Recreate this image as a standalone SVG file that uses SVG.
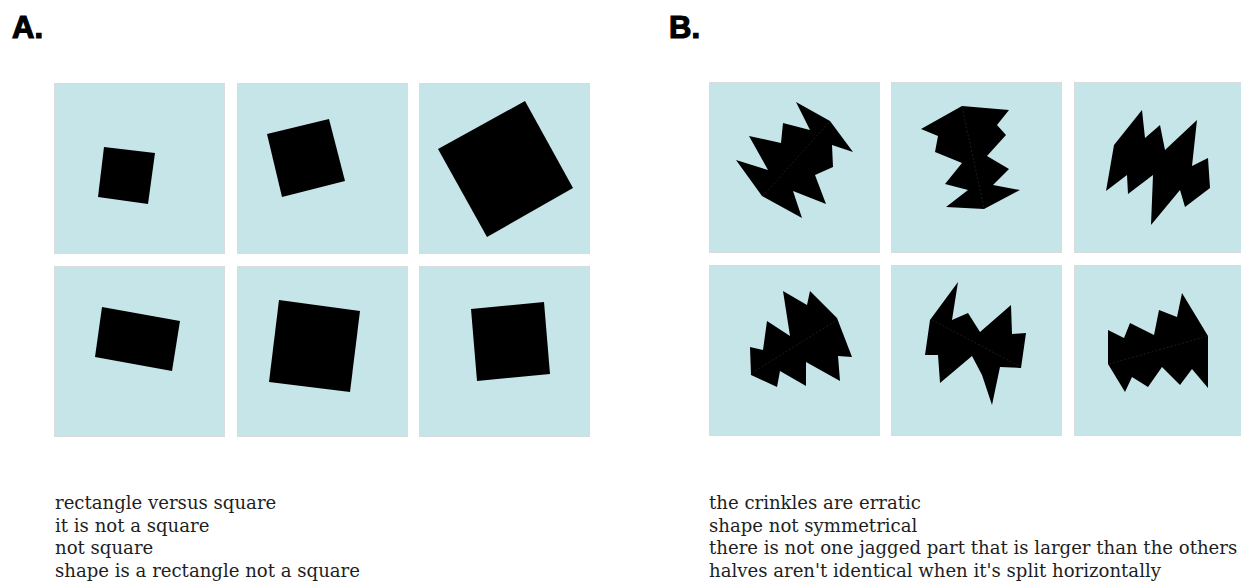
<svg xmlns="http://www.w3.org/2000/svg" width="1241" height="584" viewBox="0 0 1241 584">
<style>
.bg{fill:#ffffff}
.panel{fill:#c6e5e8;stroke:#d8dcdc;stroke-width:1}
.shape{fill:#000000}
.seam{fill:none;stroke:#2a2a2a;stroke-width:0.7;stroke-dasharray:2 2}
.lbl{font-family:"Liberation Sans",Arial,sans-serif;font-weight:bold;font-size:31px;fill:#000;stroke:#000;stroke-width:1.2}
.txt{font-family:"DejaVu Serif","Liberation Serif",serif;font-size:18.1px;fill:#1e1e1e}
</style>
<rect class="bg" x="0" y="0" width="1241" height="584"/>
<text class="lbl" x="12" y="38">A.</text>
<text class="lbl" x="669" y="38">B.</text>

<g id="a1"><rect class="panel" x="54.5" y="83.5" width="170" height="170"/><polygon class="shape" points="104,147 155,153 148,204 98,197"/></g>
<g id="a2"><rect class="panel" x="237.5" y="83.5" width="170" height="170"/><polygon class="shape" points="267,134 329,119 345,181 282,197"/></g>
<g id="a3"><rect class="panel" x="419.5" y="83.5" width="170" height="170"/><polygon class="shape" points="525,101 573,188 487,237 438,149"/></g>
<g id="a4"><rect class="panel" x="54.5" y="266.5" width="170" height="170"/><polygon class="shape" points="102,307 180,321 172,371 95,357"/></g>
<g id="a5"><rect class="panel" x="237.5" y="266.5" width="170" height="170"/><polygon class="shape" points="279,300 360,311 350,392 269,382"/></g>
<g id="a6"><rect class="panel" x="419.5" y="266.5" width="170" height="170"/><polygon class="shape" points="471,309 544,302 550,374 477,381"/></g>

<g id="b1"><rect class="panel" x="709.5" y="82.5" width="170" height="170"/>
<polygon class="shape" points="796,102 830,121 853,152 832,145 833,167 815,175 826,204 793,191 802,218 762,196 736,160 768,170 749,136 781,143 783,123 810,130"/>
<line class="seam" x1="763" y1="196" x2="830" y2="121"/></g>
<g id="b2"><rect class="panel" x="891.5" y="82.5" width="170" height="170"/>
<polygon class="shape" points="962,106 1009,110 997,125 1006,135 987,156 1009,169 993,185 1020,190 984,209 946,207 968,190 945,184 962,163 935,152 938,136 921,129"/>
<line class="seam" x1="962" y1="107" x2="984" y2="208"/></g>
<g id="b3"><rect class="panel" x="1074.5" y="82.5" width="170" height="170"/>
<polygon class="shape" points="1142,110 1145,138 1160,125 1165,150 1197,120 1192,166 1208,158 1210,188 1185,207 1180,190 1151,225 1153,175 1128,194 1127,175 1106,191 1114,145"/></g>
<g id="b4"><rect class="panel" x="709.5" y="265.5" width="170" height="170"/>
<polygon class="shape" points="783,291 807,305 810,291 837,318 852,357 838,356 840,381 806,362 806,386 780,371 777,387 751,375 750,347 763,350 767,321 790,336"/>
<line class="seam" x1="755" y1="371" x2="837" y2="320"/></g>
<g id="b5"><rect class="panel" x="891.5" y="265.5" width="170" height="170"/>
<polygon class="shape" points="958,282 952,320 968,313 980,332 1011,305 1012,334 1026,333 1021,368 1000,367 992,405 982,375 972,356 940,383 938,355 925,355 930,320"/>
<line class="seam" x1="932" y1="320" x2="1021" y2="367"/></g>
<g id="b6"><rect class="panel" x="1074.5" y="265.5" width="170" height="170"/>
<polygon class="shape" points="1108,330 1124,338 1130,323 1154,335 1159,310 1177,317 1182,293 1208,336 1208,388 1192,369 1180,385 1162,367 1148,387 1132,377 1125,392 1108,364"/>
<line class="seam" x1="1109" y1="364" x2="1208" y2="336"/></g>

<g id="connectors"></g>

<g id="textA">
<text class="txt" x="55" y="509">rectangle versus square</text>
<text class="txt" x="55" y="532">it is not a square</text>
<text class="txt" x="55" y="554">not square</text>
<text class="txt" x="55" y="577">shape is a rectangle not a square</text>
</g>
<g id="textB">
<text class="txt" x="709" y="509">the crinkles are erratic</text>
<text class="txt" x="709" y="532">shape not symmetrical</text>
<text class="txt" x="709" y="554">there is not one jagged part that is larger than the others</text>
<text class="txt" x="709" y="577">halves aren't identical when it's split horizontally</text>
</g>
</svg>
